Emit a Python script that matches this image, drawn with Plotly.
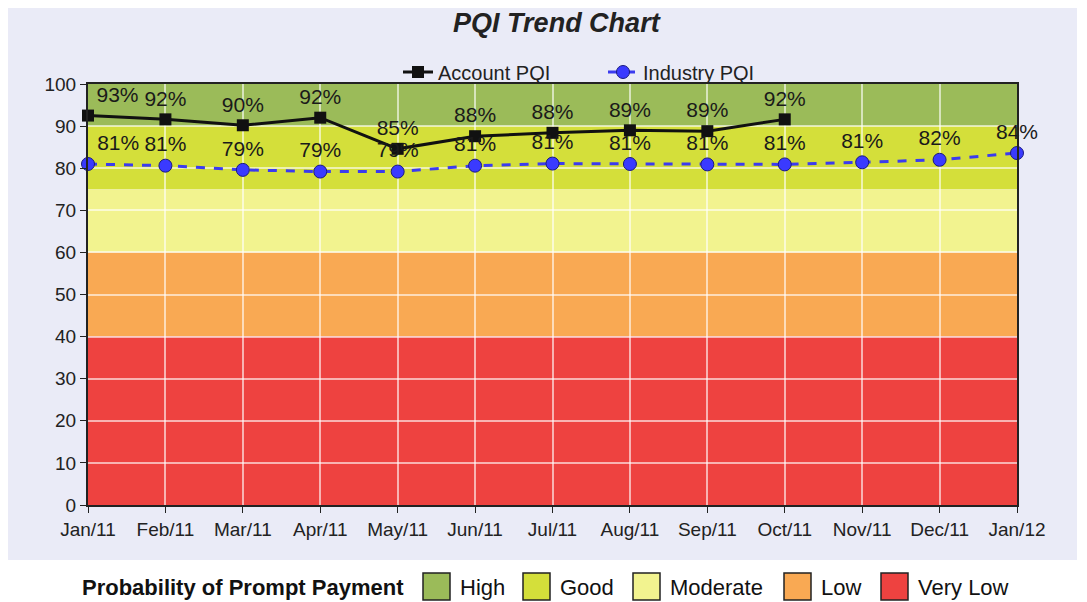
import plotly.graph_objects as go

months = ["Jan/11", "Feb/11", "Mar/11", "Apr/11", "May/11", "Jun/11", "Jul/11",
          "Aug/11", "Sep/11", "Oct/11", "Nov/11", "Dec/11", "Jan/12"]

account_pqi = [92.5, 91.6, 90.2, 92.0, 84.6, 87.6, 88.4, 89.0, 88.8, 91.6]
account_labels = ["93%", "92%", "90%", "92%", "85%", "88%", "88%", "89%", "89%", "92%"]

industry_pqi = [81.0, 80.6, 79.6, 79.2, 79.2, 80.6, 81.1, 81.0, 80.9, 80.9, 81.4, 82.0, 83.6]
industry_labels = ["81%", "81%", "79%", "79%", "79%", "81%", "81%", "81%", "81%", "81%",
                   "81%", "82%", "84%"]

band_names = ["High", "Good", "Moderate", "Low", "Very Low"]
band_low = [90, 75, 60, 40, 0]
band_high = [100, 90, 75, 60, 40]
band_colors = ["#9bbb59", "#d4df3a", "#f2f38f", "#f9a953", "#ee4240"]

FONT = "Liberation Sans, Arial, sans-serif"

# the page puts the figure 8px in from the window corner
OFF = 8
W, H = 1087 - OFF, 602 - OFF
L, R, T, B = 88 - OFF, 1087 - 1017, 84 - OFF, 602 - 505
PW, PH = W - L - R, H - T - B


def px(x):
    # window pixel -> paper x
    return (x - OFF - L) / PW


def py(y):
    # window pixel -> paper y
    return (H - B - (y - OFF)) / PH


fig = go.Figure()

# lavender panel behind the chart
shapes = [dict(type="rect", xref="paper", yref="paper", x0=px(8), x1=px(1077),
               y0=py(560), y1=py(5), fillcolor="#eaebf7", line_width=0, layer="below")]
for lo, hi, c in zip(band_low, band_high, band_colors):
    shapes.append(dict(type="rect", xref="x domain", yref="y", x0=0, x1=1, y0=lo, y1=hi,
                       fillcolor=c, line_width=0, layer="below"))

fig.add_trace(go.Scatter(
    x=months[:len(account_pqi)], y=account_pqi, name="Account PQI",
    mode="lines+markers+text", text=account_labels,
    textposition=["top right"] + ["top center"] * (len(account_pqi) - 1),
    textfont=dict(size=21, color="#1a1a1a", family=FONT),
    line=dict(color="#111111", width=3),
    marker=dict(symbol="square", size=12, color="#111111"),
    cliponaxis=False))

fig.add_trace(go.Scatter(
    x=months, y=industry_pqi, name="Industry PQI",
    mode="lines+markers+text", text=industry_labels,
    textposition=["top right"] + ["top center"] * (len(industry_pqi) - 1),
    textfont=dict(size=21, color="#1a1a1a", family=FONT),
    line=dict(color="#3b3bef", width=3, dash="dash"),
    marker=dict(symbol="circle", size=13, color="#3a3aff",
                line=dict(color="#1a1a80", width=1)),
    cliponaxis=False))

# category key at the bottom: swatches + labels
annotations = [dict(text="<b>Probability of Prompt Payment</b>", xref="paper", yref="paper",
                    x=px(406), y=py(587), xanchor="right", yanchor="middle",
                    showarrow=False, font=dict(size=22, color="#111111"))]
key_left = [423, 523, 633, 784, 881]
for name, c, kx in zip(band_names, band_colors, key_left):
    shapes.append(dict(type="rect", xref="paper", yref="paper", x0=px(kx), x1=px(kx + 27),
                       y0=py(600), y1=py(573), fillcolor=c,
                       line=dict(color="#222222", width=1.5)))
    annotations.append(dict(text=name, xref="paper", yref="paper", x=px(kx + 35), y=py(587),
                            xanchor="left", yanchor="middle", showarrow=False,
                            font=dict(size=22, color="#111111")))

fig.update_layout(
    width=W, height=H,
    margin=dict(l=L, r=R, t=T, b=B, autoexpand=False),
    paper_bgcolor="white", plot_bgcolor="rgba(0,0,0,0)",
    font=dict(family=FONT, size=19, color="#222222"),
    title=dict(text="<b><i>PQI Trend Chart</i></b>", x=(552 - OFF) / W, xanchor="center",
               xref="paper", y=1 - (23 - OFF) / H, yanchor="middle",
               font=dict(size=27, color="#222222")),
    shapes=shapes,
    annotations=annotations,
    legend=dict(orientation="h", x=px(398), xanchor="left", y=py(72), yanchor="middle",
                bgcolor="rgba(0,0,0,0)", font=dict(size=20), itemwidth=30,
                entrywidth=160, entrywidthmode="pixels"),
    xaxis=dict(type="category", range=[0, len(months) - 1], tickvals=months, showgrid=True,
               gridcolor="rgba(255,255,255,0.6)", gridwidth=1.5,
               showline=True, linecolor="#222222", linewidth=2, mirror=True,
               ticks="outside", ticklen=6, tickcolor="#222222", zeroline=False,
               tickfont=dict(size=19), automargin=False),
    yaxis=dict(range=[0, 100], dtick=10, showgrid=True,
               gridcolor="rgba(255,255,255,0.6)", gridwidth=1.5,
               showline=True, linecolor="#222222", linewidth=2, mirror=True,
               ticks="outside", ticklen=6, tickcolor="#222222", zeroline=False,
               tickfont=dict(size=19), automargin=False),
)

fig.write_html("out.html")
